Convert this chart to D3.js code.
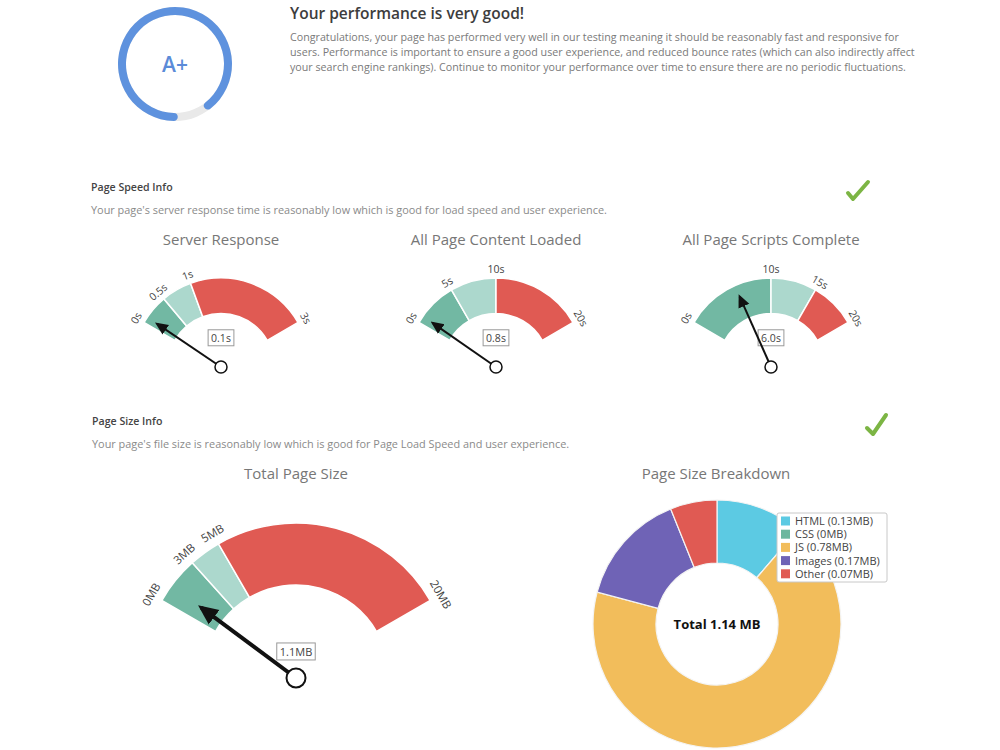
<!DOCTYPE html>
<html>
<head>
<meta charset="utf-8">
<script src="https://cdn.jsdelivr.net/npm/d3@7"></script>
<style>
  body { margin: 0; background: #fff; }
  svg { font-family: "Open Sans", sans-serif; display: block; }
</style>
</head>
<body>
<div id="chart"></div>
<script>
// grade ring
var gradeLabel = "A+";
var gradeScore = 0.914;

// summary text
var headline = "Your performance is very good!";
var summaryLines = [
    "Congratulations, your page has performed very well in our testing meaning it should be reasonably fast and responsive for",
    "users. Performance is important to ensure a good user experience, and reduced bounce rates (which can also indirectly affect",
    "your search engine rankings). Continue to monitor your performance over time to ensure there are no periodic fluctuations."
];

var sectionTitles = ["Page Speed Info", "Page Size Info"];
var sectionNotes = [
    "Your page's server response time is reasonably low which is good for load speed and user experience.",
    "Your page's file size is reasonably low which is good for Page Load Speed and user experience."
];

// gauges
var gaugeTitles = ["Server Response", "All Page Content Loaded", "All Page Scripts Complete", "Total Page Size"];
var gaugeThresholds = [
    [0, 0.5, 1, 3],
    [0, 5, 10, 20],
    [0, 10, 15, 20],
    [0, 3, 5, 20]
];
var gaugeTickLabels = [
    ["0s", "0.5s", "1s", "3s"],
    ["0s", "5s", "10s", "20s"],
    ["0s", "10s", "15s", "20s"],
    ["0MB", "3MB", "5MB", "20MB"]
];
var gaugeValues = [0.1, 0.8, 6.0, 1.1];
var gaugeValueLabels = ["0.1s", "0.8s", "6.0s", "1.1MB"];
var bandColors = ["#72b8a3", "#acd8cd", "#e05a53"];

// page size breakdown
var breakdownTypes = ["HTML", "CSS", "JS", "Images", "Other"];
var breakdownMB = [0.13, 0, 0.78, 0.17, 0.07];
var breakdownLabels = ["HTML (0.13MB)", "CSS (0MB)", "JS (0.78MB)", "Images (0.17MB)", "Other (0.07MB)"];
var breakdownColors = ["#5ccae3", "#6cb79e", "#f2bd5b", "#6f63b6", "#e05a53"];
var totalLabel = "Total 1.14 MB";

var svg = d3.select("#chart")
    .append("svg")
    .attr("width", 1000)
    .attr("height", 750);

var defs = svg.append("defs");

/*
 Grade ring
 */
var deg = Math.PI / 180;
var ringStart = 177 * deg;
var ring = svg.append("g").attr("transform", "translate(175,64)");

ring.append("path")
    .attr("d", d3.arc()({ innerRadius: 49, outerRadius: 57, startAngle: 0, endAngle: 2 * Math.PI }))
    .style("fill", "#e9e9e9");

ring.append("path")
    .attr("d", d3.arc().cornerRadius(4)({
        innerRadius: 49, outerRadius: 57,
        startAngle: ringStart, endAngle: ringStart + gradeScore * 2 * Math.PI
    }))
    .style("fill", "#5e92de");

ring.append("text")
    .attr("text-anchor", "middle")
    .attr("y", 8)
    .style("font-size", "21px")
    .style("font-weight", 600)
    .style("fill", "#5b8bd8")
    .text(gradeLabel);

svg.append("text")
    .attr("x", 290).attr("y", 19)
    .style("font-size", "15.5px")
    .style("font-weight", 600)
    .style("fill", "#3d3d3d")
    .text(headline);

svg.selectAll("text.summary")
    .data(summaryLines)
    .enter()
    .append("text")
    .attr("class", "summary")
    .attr("x", 290)
    .attr("y", function(d, i) { return 41 + i * 15; })
    .style("font-size", "10.7px")
    .style("fill", "#7a7a7a")
    .text(function(d) { return d; });

/*
 Section headers
 */
var sectionY = [191, 425];
var sectionX = [91, 92];
sectionTitles.forEach(function(t, i) {
    svg.append("text")
        .attr("x", sectionX[i]).attr("y", sectionY[i])
        .style("font-size", "10.6px")
        .style("font-weight", 600)
        .style("fill", "#444")
        .text(t);
    svg.append("text")
        .attr("x", sectionX[i]).attr("y", sectionY[i] + 23)
        .style("font-size", "10.9px")
        .style("fill", "#8a8a8a")
        .text(sectionNotes[i]);
});

// check marks
var checks = [[848, 193, 853, 199, 868, 182], [867, 428, 873, 434, 886, 415]];
checks.forEach(function(c) {
    svg.append("path")
        .attr("d", "M" + c[0] + "," + c[1] + "L" + c[2] + "," + c[3] + "L" + c[4] + "," + c[5])
        .style("fill", "none")
        .style("stroke", "#7cb544")
        .style("stroke-width", 4)
        .style("stroke-linecap", "round")
        .style("stroke-linejoin", "round");
});

/*
 Gauges
 */
var gaugeLayout = [
    { cx: 221, cy: 367, r: 89, title: 245, tickFont: 10.5, tickGap: 5, needle: 77, needleW: 2, pivot: 6, boxFont: 10.5, boxDy: -29 },
    { cx: 496, cy: 367, r: 89, title: 245, tickFont: 10.5, tickGap: 5, needle: 77, needleW: 2, pivot: 6, boxFont: 10.5, boxDy: -29 },
    { cx: 771, cy: 367, r: 89, title: 245, tickFont: 10.5, tickGap: 5, needle: 77, needleW: 2, pivot: 6, boxFont: 10.5, boxDy: -29 },
    { cx: 296, cy: 678, r: 155, title: 479, tickFont: 11.5, tickGap: 8, needle: 118, needleW: 4, pivot: 9.5, boxFont: 11, boxDy: -26 }
];

function addArrowMarker(id, size) {
    defs.append("marker")
        .attr("id", id)
        .attr("viewBox", "0 -5 10 10")
        .attr("refX", 8)
        .attr("refY", 0)
        .attr("markerUnits", "userSpaceOnUse")
        .attr("markerWidth", size)
        .attr("markerHeight", size)
        .attr("orient", "auto")
        .append("path")
        .attr("d", "M0,-4.5L10,0L0,4.5Z")
        .style("fill", "#111");
}
addArrowMarker("arrow-small", 13);
addArrowMarker("arrow-big", 20);

gaugeTitles.forEach(function(title, gi) {
    var L = gaugeLayout[gi];
    var th = gaugeThresholds[gi];
    var angle = d3.scaleLinear()
        .domain([th[0], th[th.length - 1]])
        .range([-60 * deg, 60 * deg]);

    svg.append("text")
        .attr("x", L.cx).attr("y", L.title)
        .attr("text-anchor", "middle")
        .style("font-size", "15px")
        .style("fill", "#777")
        .text(title);

    var g = svg.append("g").attr("transform", "translate(" + L.cx + "," + L.cy + ")");

    var arc = d3.arc()
        .innerRadius(L.r * 0.6)
        .outerRadius(L.r);

    var bands = d3.range(th.length - 1).map(function(i) {
        return { startAngle: angle(th[i]), endAngle: angle(th[i + 1]), color: bandColors[i] };
    });

    g.selectAll("path.band")
        .data(bands)
        .enter()
        .append("path")
        .attr("class", "band")
        .attr("d", arc)
        .style("fill", function(d) { return d.color; })
        .style("stroke", "#fff")
        .style("stroke-width", 1.5);

    // tick labels, rotated along the arc
    g.selectAll("text.tick")
        .data(th)
        .enter()
        .append("text")
        .attr("class", "tick")
        .attr("text-anchor", "middle")
        .attr("transform", function(d) {
            var a = angle(d);
            var rr = L.r + L.tickGap;
            return "translate(" + (rr * Math.sin(a)) + "," + (-rr * Math.cos(a)) + ") rotate(" + (a / deg) + ")";
        })
        .style("font-size", L.tickFont + "px")
        .style("fill", "#444")
        .text(function(d, i) { return gaugeTickLabels[gi][i]; });

    // value box
    var box = g.append("g").attr("transform", "translate(0," + L.boxDy + ")");
    var label = box.append("text")
        .attr("text-anchor", "middle")
        .attr("y", L.boxFont * 0.36)
        .style("font-size", L.boxFont + "px")
        .style("fill", "#444")
        .text(gaugeValueLabels[gi]);
    var bb = label.node().getBBox();
    box.insert("rect", "text")
        .attr("x", bb.x - 3).attr("y", bb.y - 1)
        .attr("width", bb.width + 6).attr("height", bb.height + 2)
        .style("fill", "#fff")
        .style("stroke", "#999")
        .style("stroke-width", 1);

    // needle
    var a = angle(gaugeValues[gi]);
    g.append("line")
        .attr("x1", 0).attr("y1", 0)
        .attr("x2", L.needle * Math.sin(a))
        .attr("y2", -L.needle * Math.cos(a))
        .attr("marker-end", gi === 3 ? "url(#arrow-big)" : "url(#arrow-small)")
        .style("stroke", "#111")
        .style("stroke-width", L.needleW);

    g.append("circle")
        .attr("r", L.pivot)
        .style("fill", "#fff")
        .style("stroke", "#111")
        .style("stroke-width", gi === 3 ? 2 : 1.5);
});

/*
 Page size breakdown donut
 */
svg.append("text")
    .attr("x", 716).attr("y", 479)
    .attr("text-anchor", "middle")
    .style("font-size", "15px")
    .style("fill", "#777")
    .text("Page Size Breakdown");

var pie = d3.pie().sort(null).value(function(d) { return d; });
var donutArc = d3.arc().innerRadius(61).outerRadius(124);

var donut = svg.append("g").attr("transform", "translate(717,624)");

donut.selectAll("path")
    .data(pie(breakdownMB))
    .enter()
    .append("path")
    .attr("d", donutArc)
    .style("fill", function(d, i) { return breakdownColors[i]; })
    .style("stroke", "#f4f4f4")
    .style("stroke-width", 1.2);

donut.append("text")
    .attr("text-anchor", "middle")
    .attr("y", 5)
    .style("font-size", "13px")
    .style("font-weight", 700)
    .style("fill", "#111")
    .text(totalLabel);

var legend = svg.append("g").attr("transform", "translate(777,513)");
legend.append("rect")
    .attr("width", 110).attr("height", 69)
    .attr("rx", 2)
    .style("fill", "#fff")
    .style("stroke", "#c8c8c8");

var rows = legend.selectAll("g.row")
    .data(breakdownTypes)
    .enter()
    .append("g")
    .attr("class", "row")
    .attr("transform", function(d, i) { return "translate(4," + (8 + i * 13.2) + ")"; });

rows.append("rect")
    .attr("x", 0).attr("y", -4.5)
    .attr("width", 9).attr("height", 9)
    .style("fill", function(d, i) { return breakdownColors[i]; });

rows.append("text")
    .attr("x", 14).attr("y", 4)
    .style("font-size", "11px")
    .style("fill", "#444")
    .text(function(d, i) { return breakdownLabels[i]; });
</script>
</body>
</html>
